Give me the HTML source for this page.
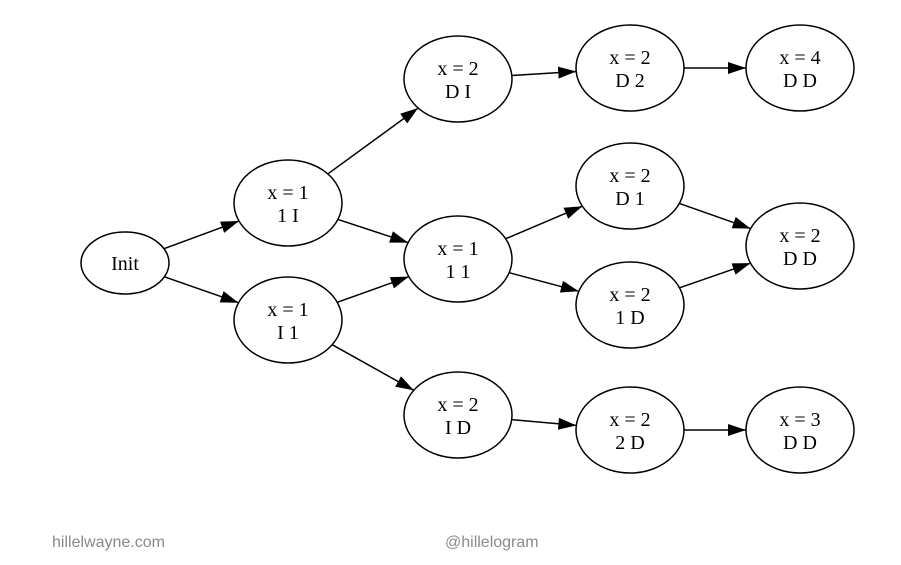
<!DOCTYPE html>
<html><head><meta charset="utf-8"><style>
html,body{margin:0;padding:0;background:#fff;width:901px;height:565px;overflow:hidden}
svg text{font-family:"Liberation Serif",serif;font-size:20px;fill:#000}
.f{font-family:"Liberation Sans",sans-serif;font-size:16px;fill:#8a8a8a}
</style></head><body>
<svg id="s" width="901" height="565" xmlns="http://www.w3.org/2000/svg">
<defs>
<marker id="b" viewBox="0 0 18 12" markerWidth="18" markerHeight="12" refX="18" refY="6" orient="auto" markerUnits="userSpaceOnUse"><path d="M0,0 L18,6 L0,12 Z" fill="#000"/></marker></defs>
<text class="f" x="52" y="547">hillelwayne.com</text>
<text class="f" x="445" y="547">@hillelogram</text>
</svg>
<script>
var N={
init:[125,263,44,31,["Init"]],
a:[288,203,54,43,["x = 1","1 I"]],
b:[288,320,54,43,["x = 1","I 1"]],
c:[458,79,54,43,["x = 2","D I"]],
d:[458,259,54,43,["x = 1","1 1"]],
e:[458,415,54,43,["x = 2","I D"]],
f:[630,68,54,43,["x = 2","D 2"]],
g:[630,186,54,43,["x = 2","D 1"]],
h:[630,305,54,43,["x = 2","1 D"]],
i:[630,430,54,43,["x = 2","2 D"]],
j:[800,68,54,43,["x = 4","D D"]],
k:[800,246,54,43,["x = 2","D D"]],
l:[800,430,54,43,["x = 3","D D"]]};
var E=[["init","a"],["init","b"],["a","c"],["a","d"],["b","d"],["b","e"],["c","f"],["f","j"],["d","g"],["d","h"],["g","k"],["h","k"],["e","i"],["i","l"]];
var s=document.getElementById("s"),h="";
function bd(n,dx,dy){var t=1/Math.sqrt(dx*dx/(n[2]*n[2])+dy*dy/(n[3]*n[3]));return [n[0]+dx*t,n[1]+dy*t];}
for(var k in N){var n=N[k];h+='<ellipse cx="'+n[0]+'" cy="'+n[1]+'" rx="'+n[2]+'" ry="'+n[3]+'" fill="none" stroke="#000" stroke-width="1.5"/>';
if(n[4].length==1)h+='<text x="'+n[0]+'" y="'+(n[1]+7)+'" text-anchor="middle">'+n[4][0]+'</text>';
else{h+='<text x="'+n[0]+'" y="'+(n[1]-4)+'" text-anchor="middle">'+n[4][0]+'</text><text x="'+n[0]+'" y="'+(n[1]+19)+'" text-anchor="middle">'+n[4][1]+'</text>';}}
E.forEach(function(e){var p=N[e[0]],q=N[e[1]],dx=q[0]-p[0],dy=q[1]-p[1];var A=bd(p,dx,dy),B=bd(q,-dx,-dy);
h+='<line x1="'+A[0]+'" y1="'+A[1]+'" x2="'+B[0]+'" y2="'+B[1]+'" stroke="#000" stroke-width="1.5" marker-end="url(#b)"/>';});
s.insertAdjacentHTML("beforeend",h);
</script>
</body></html>
